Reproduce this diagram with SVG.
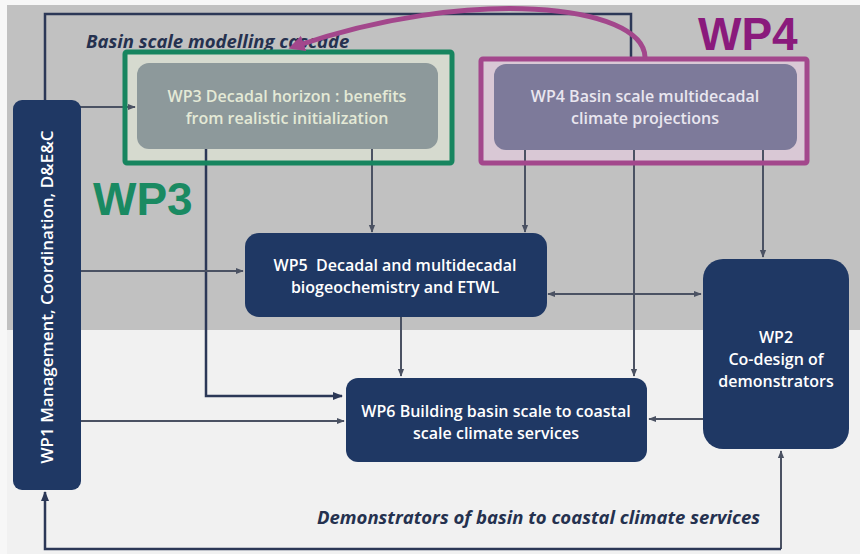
<svg xmlns="http://www.w3.org/2000/svg" width="860" height="554" viewBox="0 0 860 554">
<defs>
<marker id="ah" viewBox="0 0 10 10" refX="9" refY="5" markerWidth="4" markerHeight="4" orient="auto-start-reverse" markerUnits="strokeWidth"><path d="M0,1 L10,5 L0,9 z" fill="#4b5263"/></marker>
<marker id="ahn" viewBox="0 0 10 10" refX="9" refY="5" markerWidth="4" markerHeight="4" orient="auto" markerUnits="strokeWidth"><path d="M0,1 L10,5 L0,9 z" fill="#2c3857"/></marker>
<marker id="ahp" viewBox="0 0 10 10" refX="7" refY="5" markerWidth="3.2" markerHeight="3.2" orient="auto" markerUnits="strokeWidth"><path d="M0,0 L10,5 L0,10 z" fill="#a3478c"/></marker>
</defs>
<style>
.node{fill:#1f3864}
.nt{font-family:"Open Sans","Liberation Sans",sans-serif;font-size:16px;font-weight:600;fill:#ffffff;text-anchor:middle}
.ln{fill:none;stroke:#4b5263;stroke-width:2}
.lnn{fill:none;stroke:#2c3857;stroke-width:2.5}
.cap{font-family:"Open Sans","Liberation Sans",sans-serif;font-style:italic;font-weight:700;font-size:18.5px;fill:#25314f}
.big{font-family:"Liberation Sans",Arial,sans-serif;font-weight:700;font-size:46px}
</style>
<rect x="0" y="0" width="860" height="554" fill="#f7f7f7"/>
<rect x="7" y="5" width="853" height="325" fill="#c1c1c1"/>
<rect x="7" y="330" width="853" height="224" fill="#f1f1f1"/>

<g id="highlight-fills">
<rect x="125" y="52" width="327" height="111" fill="#d6dacf"/>
<rect x="481" y="59" width="326" height="104" fill="#d9c8d5"/>
</g>

<g id="connectors">
<polyline class="lnn" points="45,100 45,14 631,14 631,58"/>
<line class="ln" x1="80" y1="107" x2="135" y2="107" marker-end="url(#ah)"/>
<polyline class="lnn" points="206,148 206,396 342,396" marker-end="url(#ahn)"/>
<line class="ln" x1="372" y1="148" x2="372" y2="232" marker-end="url(#ah)"/>
<line class="ln" x1="525" y1="150" x2="525" y2="232" marker-end="url(#ah)"/>
<line class="ln" x1="634" y1="150" x2="634" y2="376" marker-end="url(#ah)"/>
<line class="ln" x1="763" y1="150" x2="763" y2="257" marker-end="url(#ah)"/>
<line class="ln" x1="80" y1="271" x2="243" y2="271" marker-end="url(#ah)"/>
<line class="ln" x1="548" y1="294" x2="701" y2="294" marker-start="url(#ah)" marker-end="url(#ah)"/>
<line class="ln" x1="401" y1="316" x2="401" y2="376" marker-end="url(#ah)"/>
<line class="ln" x1="80" y1="421" x2="344" y2="421" marker-end="url(#ah)"/>
<line class="ln" x1="703" y1="419" x2="649" y2="419" marker-end="url(#ah)"/>
<polyline class="ln" points="781,549 781,451" marker-end="url(#ah)"/>
<polyline class="lnn" points="781,549 45,549 45,492" marker-end="url(#ahn)"/>
</g>

<text class="cap" x="86" y="48">Basin scale modelling cascade</text>
<text class="cap" x="317" y="524">Demonstrators of basin to coastal climate services</text>

<g id="wp3">
<rect x="125" y="52" width="327" height="111" fill="none" stroke="#17855f" stroke-width="5" rx="2"/>
<rect x="137" y="63" width="301" height="86" rx="12" fill="#8d999b"/>
<text class="nt" style="fill:#e4e9d6" x="287" y="102">WP3 Decadal horizon : benefits</text>
<text class="nt" style="fill:#e4e9d6" x="287" y="124">from realistic initialization</text>
</g>

<g id="wp4">
<rect x="481" y="59" width="326" height="104" fill="none" stroke="#a3478c" stroke-width="5" rx="2"/>
<rect x="494" y="64" width="303" height="86" rx="12" fill="#7d7a9a"/>
<text class="nt" style="fill:#e9e6ef" x="645" y="102">WP4 Basin scale multidecadal</text>
<text class="nt" style="fill:#e9e6ef" x="645" y="124">climate projections</text>
</g>

<path d="M645,57 C643,4 470,-14 293,47" fill="none" stroke="#a3478c" stroke-width="5" marker-end="url(#ahp)"/>

<text class="big" x="698" y="50" fill="#8a1a7c">WP4</text>
<text class="big" x="93" y="215" fill="#1a8a62">WP3</text>

<g id="wp1">
<rect x="13" y="100" width="68" height="390" rx="9" class="node"/>
<text class="nt" style="font-size:17px" transform="translate(53,297) rotate(-90)">WP1 Management, Coordination, D&amp;E&amp;C</text>
</g>

<g id="wp5">
<rect x="245" y="233" width="302" height="84" rx="14" class="node"/>
<text class="nt" x="395" y="271">WP5&#160; Decadal and multidecadal</text>
<text class="nt" x="395" y="293">biogeochemistry and ETWL</text>
</g>

<g id="wp6">
<rect x="346" y="378" width="301" height="84" rx="12" class="node"/>
<text class="nt" x="496" y="417">WP6 Building basin scale to coastal</text>
<text class="nt" x="496" y="439">scale climate services</text>
</g>

<g id="wp2">
<rect x="703" y="259" width="146" height="190" rx="20" class="node"/>
<text class="nt" x="776" y="343">WP2</text>
<text class="nt" x="776" y="365">Co-design of</text>
<text class="nt" x="776" y="387">demonstrators</text>
</g>
</svg>
